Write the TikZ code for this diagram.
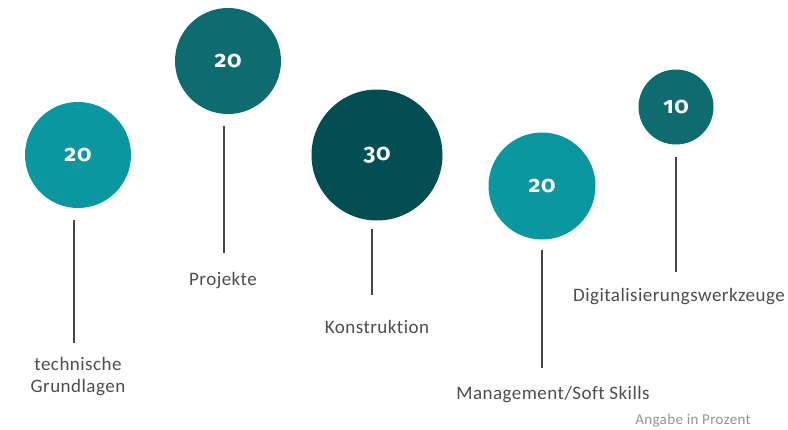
\documentclass[tikz,border=0pt]{standalone}
\usepackage{fontspec}
\setmainfont[Ligatures={NoCommon,NoRare}, LetterSpace=2.5]{Carlito}
\newfontfamily\numfont[Numbers=OldStyle, LetterSpace=3]{Fira Sans}
\usepackage{xcolor}
\usetikzlibrary{positioning}
\definecolor{tealclaro}{HTML}{0A979F}
\definecolor{tealmedio}{HTML}{0E6B6F}
\definecolor{tealescuro}{HTML}{024E52}
\definecolor{textocinza}{HTML}{4D4D4D}
\tikzset{
  bola/.style={circle, inner sep=0pt, text=white, font=\numfont\bfseries\fontsize{23}{23}\selectfont},
  rotulo/.style={text=textocinza, align=center, font=\fontsize{19}{22}\selectfont},
  haste/.style={line width=1.4pt, draw=textocinza!90!black}
}
\begin{document}
\begin{tikzpicture}[x=1pt,y=-1pt]
    \useasboundingbox (0,0) rectangle (788,429);

    % Círculos com os valores
    \node[bola, fill=tealclaro, minimum size=106pt] (c1) at (78,155) {20};
    \node[bola, fill=tealmedio, minimum size=106pt] (c2) at (228,61) {20};
    \node[bola, fill=tealescuro, minimum size=131pt] (c3) at (377,155) {30};
    \node[bola, fill=tealclaro, minimum size=107pt] (c4) at (542,186) {20};
    \node[bola, fill=tealmedio, minimum size=75pt] (c5) at (676,107) {10};

    % Rótulos
    \node[rotulo] (r1) at (78,377) {technische\\Grundlagen};
    \node[rotulo] (r2) at (223,281) {Projekte};
    \node[rotulo] (r3) at (377,327) {Konstruktion};
    \node[rotulo] (r4) at (553,395) {Management/Soft Skills};
    \node[rotulo] (r5) at (679,297) {Digitalisierungswerkzeuge};

    % Hastes
    \coordinate (h1a) at (74,220);  \coordinate (h1b) at (74,343);
    \coordinate (h2a) at (224,126); \coordinate (h2b) at (224,253);
    \coordinate (h3a) at (372,229); \coordinate (h3b) at (372,295);
    \coordinate (h4a) at (542,250); \coordinate (h4b) at (542,368);
    \coordinate (h5a) at (676,157); \coordinate (h5b) at (676,272);
    \foreach \i in {1,...,5}
        \draw[haste] (h\i a) -- (h\i b);

    % Nota
    \node[text=gray!85, font=\fontsize{15}{15}\selectfont] (nota) at (693,421) {Angabe in Prozent};
\end{tikzpicture}
\end{document}
